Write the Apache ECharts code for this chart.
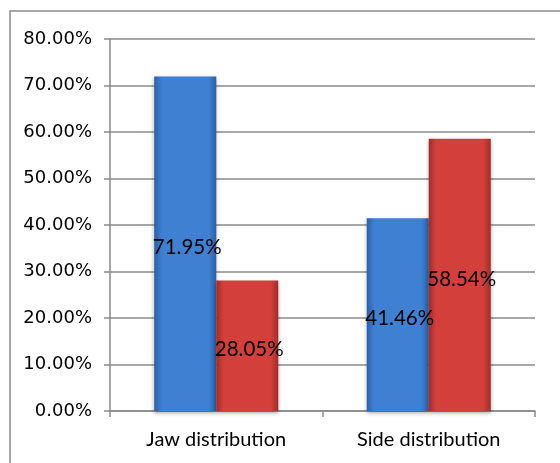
<!DOCTYPE html>
<html><head><meta charset="utf-8">
<script src="https://cdn.jsdelivr.net/npm/echarts@6/dist/echarts.min.js"></script>
<style>html,body{margin:0;padding:0;background:#fff}#c{width:560px;height:463px}</style>
</head><body><div id="c"></div>
<script>
var categories = ['Jaw distribution', 'Side distribution'];
var blueValues = [71.95, 41.46];
var redValues = [28.05, 58.54];
var yTicks = [0, 10, 20, 30, 40, 50, 60, 70, 80];

var chart = echarts.init(document.getElementById('c'), null, {renderer: 'canvas'});
function grad(dark, light) {
  return new echarts.graphic.LinearGradient(0, 0, 1, 0, [
    {offset: 0, color: dark}, {offset: 0.12, color: light}, {offset: 0.5, color: light},
    {offset: 0.88, color: light}, {offset: 1, color: dark}
  ]);
}
var labelStyle = {
  show: true, position: 'inside', offset: [2, 4], color: '#000',
  fontFamily: 'Lato', fontSize: 20.5,
  formatter: function (p) { return p.value.toFixed(2) + '%'; }
};
chart.setOption({
  animation: false,
  graphic: [{type: 'rect', shape: {x: 10, y: 11, width: 700, height: 700},
    style: {fill: 'none', stroke: '#8a8a8a', lineWidth: 1.5}}],
  grid: {left: 110, right: 25, top: 39, bottom: 52},
  xAxis: {
    type: 'category', data: categories,
    axisLine: {lineStyle: {color: '#8a8a8a', width: 1.5}},
    axisTick: {show: true, length: 6, lineStyle: {color: '#8a8a8a', width: 1.5}},
    axisLabel: {color: '#000', fontFamily: 'Lato', fontSize: 20, margin: 19}
  },
  yAxis: {
    type: 'value', min: yTicks[0], max: yTicks[yTicks.length - 1], interval: 10,
    axisLine: {show: true, lineStyle: {color: '#8a8a8a', width: 1.5}},
    axisTick: {show: true, length: 6, lineStyle: {color: '#8a8a8a', width: 1.5}},
    splitLine: {lineStyle: {color: '#8a8a8a', width: 1.5}},
    axisLabel: {color: '#000', fontFamily: 'DejaVu Sans', fontSize: 18, margin: 18,
      formatter: function (v) { return v.toFixed(2) + '%'; }}
  },
  series: [
    {type: 'bar', data: blueValues, barWidth: 62, barGap: '0%',
      itemStyle: {color: grad('#2c5fa6', '#3f80d2'), shadowBlur: 4, shadowColor: 'rgba(0,0,0,0.35)', shadowOffsetY: 2},
      label: labelStyle},
    {type: 'bar', data: redValues, barWidth: 62,
      itemStyle: {color: grad('#9e2d2a', '#d3403c'), shadowBlur: 4, shadowColor: 'rgba(0,0,0,0.35)', shadowOffsetY: 2},
      label: labelStyle}
  ]
});
</script></body></html>
